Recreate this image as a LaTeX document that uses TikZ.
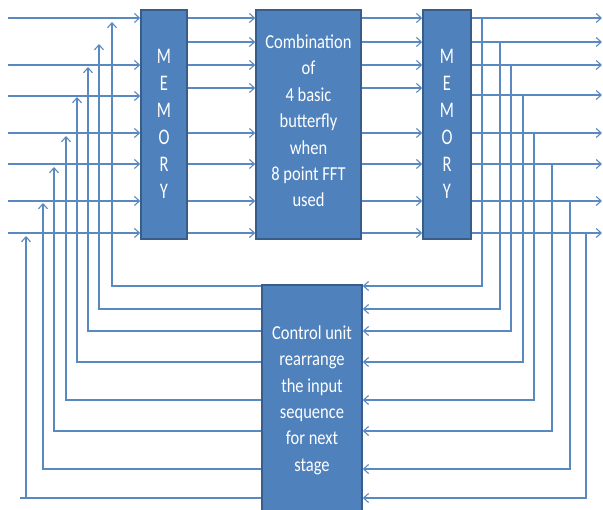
\documentclass[tikz,border=0pt]{standalone}
\usepackage{fontspec}
\usepackage{graphicx}
\setmainfont{Carlito}
\usetikzlibrary{arrows.meta}
\definecolor{boxblue}{HTML}{4F81BD}
\definecolor{boxedge}{HTML}{385D8A}
\definecolor{wirec}{HTML}{5A89C2}
\newcommand{\stk}[1]{\scalebox{1}[1.2]{\begin{tabular}{@{}c@{}}#1\end{tabular}}}
\newcommand{\stkm}[1]{\scalebox{1}[1.35]{\begin{tabular}{@{}c@{}}#1\end{tabular}}}
\begin{document}
\begin{tikzpicture}[x=1pt,y=-1pt,
  wire/.style={draw=wirec, line width=1.1pt},
  arr/.style={wire,-{Straight Barb[length=5pt,width=9pt]}},
  blk/.style={draw=boxedge,line width=1.5pt,fill=boxblue,text=white,inner sep=0pt,
    font=\fontsize{16.5}{22}\selectfont}]
\useasboundingbox (0,0) rectangle (603,510);
% blocks
\node[blk, minimum width=46pt, minimum height=229pt] (mem1) at (164,124.5) {};
\node[blk, minimum width=105pt, minimum height=229pt] (bf) at (308.5,124.5) {};
\node[blk, minimum width=48pt, minimum height=229pt] (mem2) at (447,124.5) {};
\node[blk, minimum width=100pt, minimum height=232pt] (ctrl) at (312,401) {};
% left inputs
\foreach \y [count=\i] in {18,65,96,133,164,201,233}{
  \coordinate (in\i) at (8,\y);
  \draw[arr] (in\i) -- (mem1.west |- in\i);
}
% between blocks
\foreach \y [count=\i] in {18,42,65,88,133,164,201,233}{
  \coordinate (m\i) at (0,\y);
  \draw[arr] (mem1.east |- m\i) -- (bf.west |- m\i);
  \draw[arr] (bf.east |- m\i) -- (mem2.west |- m\i);
}
% outputs
\foreach \y [count=\i] in {18,42,65,95,133,164,201,233}{
  \coordinate (out\i) at (602,\y);
  \draw[arr] (mem2.east |- out\i) -- (out\i);
}
% right feedback to control unit
\foreach \x/\yt/\yb [count=\i] in {482/18/286,500/42/309,511/65/331,523/95/362,534/133/400,552/164/431,570/201/469,586/233/498}{
  \coordinate (rt\i) at (\x,\yt);
  \coordinate (rb\i) at (\x,\yb);
  \draw[arr] (rt\i) -- (rb\i) -- (ctrl.east |- rb\i);
}
% left feedback from control unit
\foreach \x/\yt/\yb [count=\i] in {112/22/286,99/44/309,88/67/331,77/97/362,66/136/400,54/167/431,43/203/469,26/236/498}{
  \coordinate (lt\i) at (\x,\yt);
  \coordinate (lb\i) at (\x,\yb);
  \draw[arr] (ctrl.west |- lb\i) -- (lb\i) -- (lt\i);
}
\coordinate (lend) at (20,498);
\draw[wire] (lb8) -- (lend);
% texts
\node[blk, draw=none, fill=none, font=\fontsize{16.5}{20}\selectfont] at ([yshift=-1pt]mem1.center) {\stkm{M\\E\\M\\O\\R\\Y}};
\node[blk, draw=none, fill=none, font=\fontsize{16.5}{20}\selectfont] at ([yshift=-1pt]mem2.center) {\stkm{M\\E\\M\\O\\R\\Y}};
\node[blk, draw=none, fill=none] at ([yshift=2pt]bf.center) {\stk{Combination\\of\\4 basic\\butterfly\\when\\8 point FFT\\used}};
\node[blk, draw=none, fill=none] at (312,400) {\stk{Control unit\\rearrange\\the input\\sequence\\for next\\stage}};
\end{tikzpicture}
\end{document}
